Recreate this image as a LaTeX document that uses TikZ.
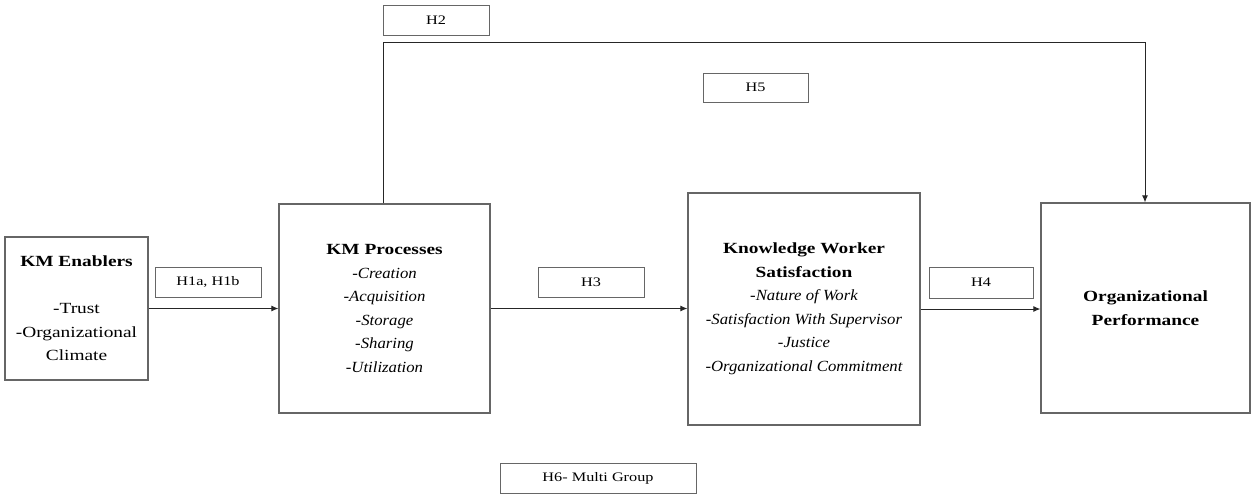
\documentclass[tikz,border=0pt]{standalone}
\usepackage{fontspec}
\setmainfont{Liberation Serif}[UprightFeatures={FakeStretch=1.25},BoldFeatures={FakeStretch=1.25},ItalicFeatures={FakeStretch=1.08}]
\usetikzlibrary{arrows.meta}
\begin{document}
\begin{tikzpicture}[x=1pt,y=-1pt,
  box/.style={draw=black!60,line width=1.2pt,inner sep=0pt,align=center,
    font=\fontsize{15.5}{23.5}\selectfont},
  lab/.style={draw=black!60,line width=1pt,inner sep=0pt,
    font=\fontsize{13}{15}\selectfont},
  arr/.style={draw=black!85,line width=1pt,-{Latex[length=7pt,width=6pt]}}]
\useasboundingbox (0,0) rectangle (1251,498);
\node[box,minimum width=143pt,minimum height=143pt] (kme) at (76.5,308.5)
  {\textbf{KM Enablers}\\[23.5pt]-Trust\\-Organizational\\Climate};
\node[box,minimum width=211pt,minimum height=209pt] (kmp) at (384.5,308.5)
  {\textbf{KM Processes}\\\itshape -Creation\\\itshape -Acquisition\\\itshape -Storage\\\itshape -Sharing\\\itshape -Utilization};
\node[box,minimum width=232pt,minimum height=232pt] (kws) at (804,309)
  {\textbf{Knowledge Worker}\\\textbf{Satisfaction}\\\itshape -Nature of Work\\\itshape -Satisfaction With Supervisor\\\itshape -Justice\\\itshape -Organizational Commitment};
\node[box,minimum width=209pt,minimum height=210pt] (op) at (1145.5,308)
  {\textbf{Organizational}\\\textbf{Performance}};
\node[lab,minimum width=106pt,minimum height=30pt] (h1) at (208,282) {H1a, H1b};
\node[lab,minimum width=106pt,minimum height=30pt] (h2) at (436,20) {H2};
\node[lab,minimum width=105pt,minimum height=29pt] (h5) at (755.5,87.5) {H5};
\node[lab,minimum width=106pt,minimum height=30pt] (h3) at (591,282) {H3};
\node[lab,minimum width=104pt,minimum height=31pt] (h4) at (981,282.5) {H4};
\node[lab,minimum width=196pt,minimum height=30pt] (h6) at (598,478) {H6- Multi Group};
\coordinate (h2l) at (383,42);
\coordinate (h2r) at (1145,42);
\draw[arr] (kme.east) -- (kmp.west);
\draw[arr] (kmp.east) -- (kmp.east -| kws.west);
\draw[arr] (kws.east) -- (kws.east -| op.west);
\draw[arr] (kmp.north -| h2l) -- (h2l) -- (h2r) -- (op.north -| h2r);
\end{tikzpicture}
\end{document}
